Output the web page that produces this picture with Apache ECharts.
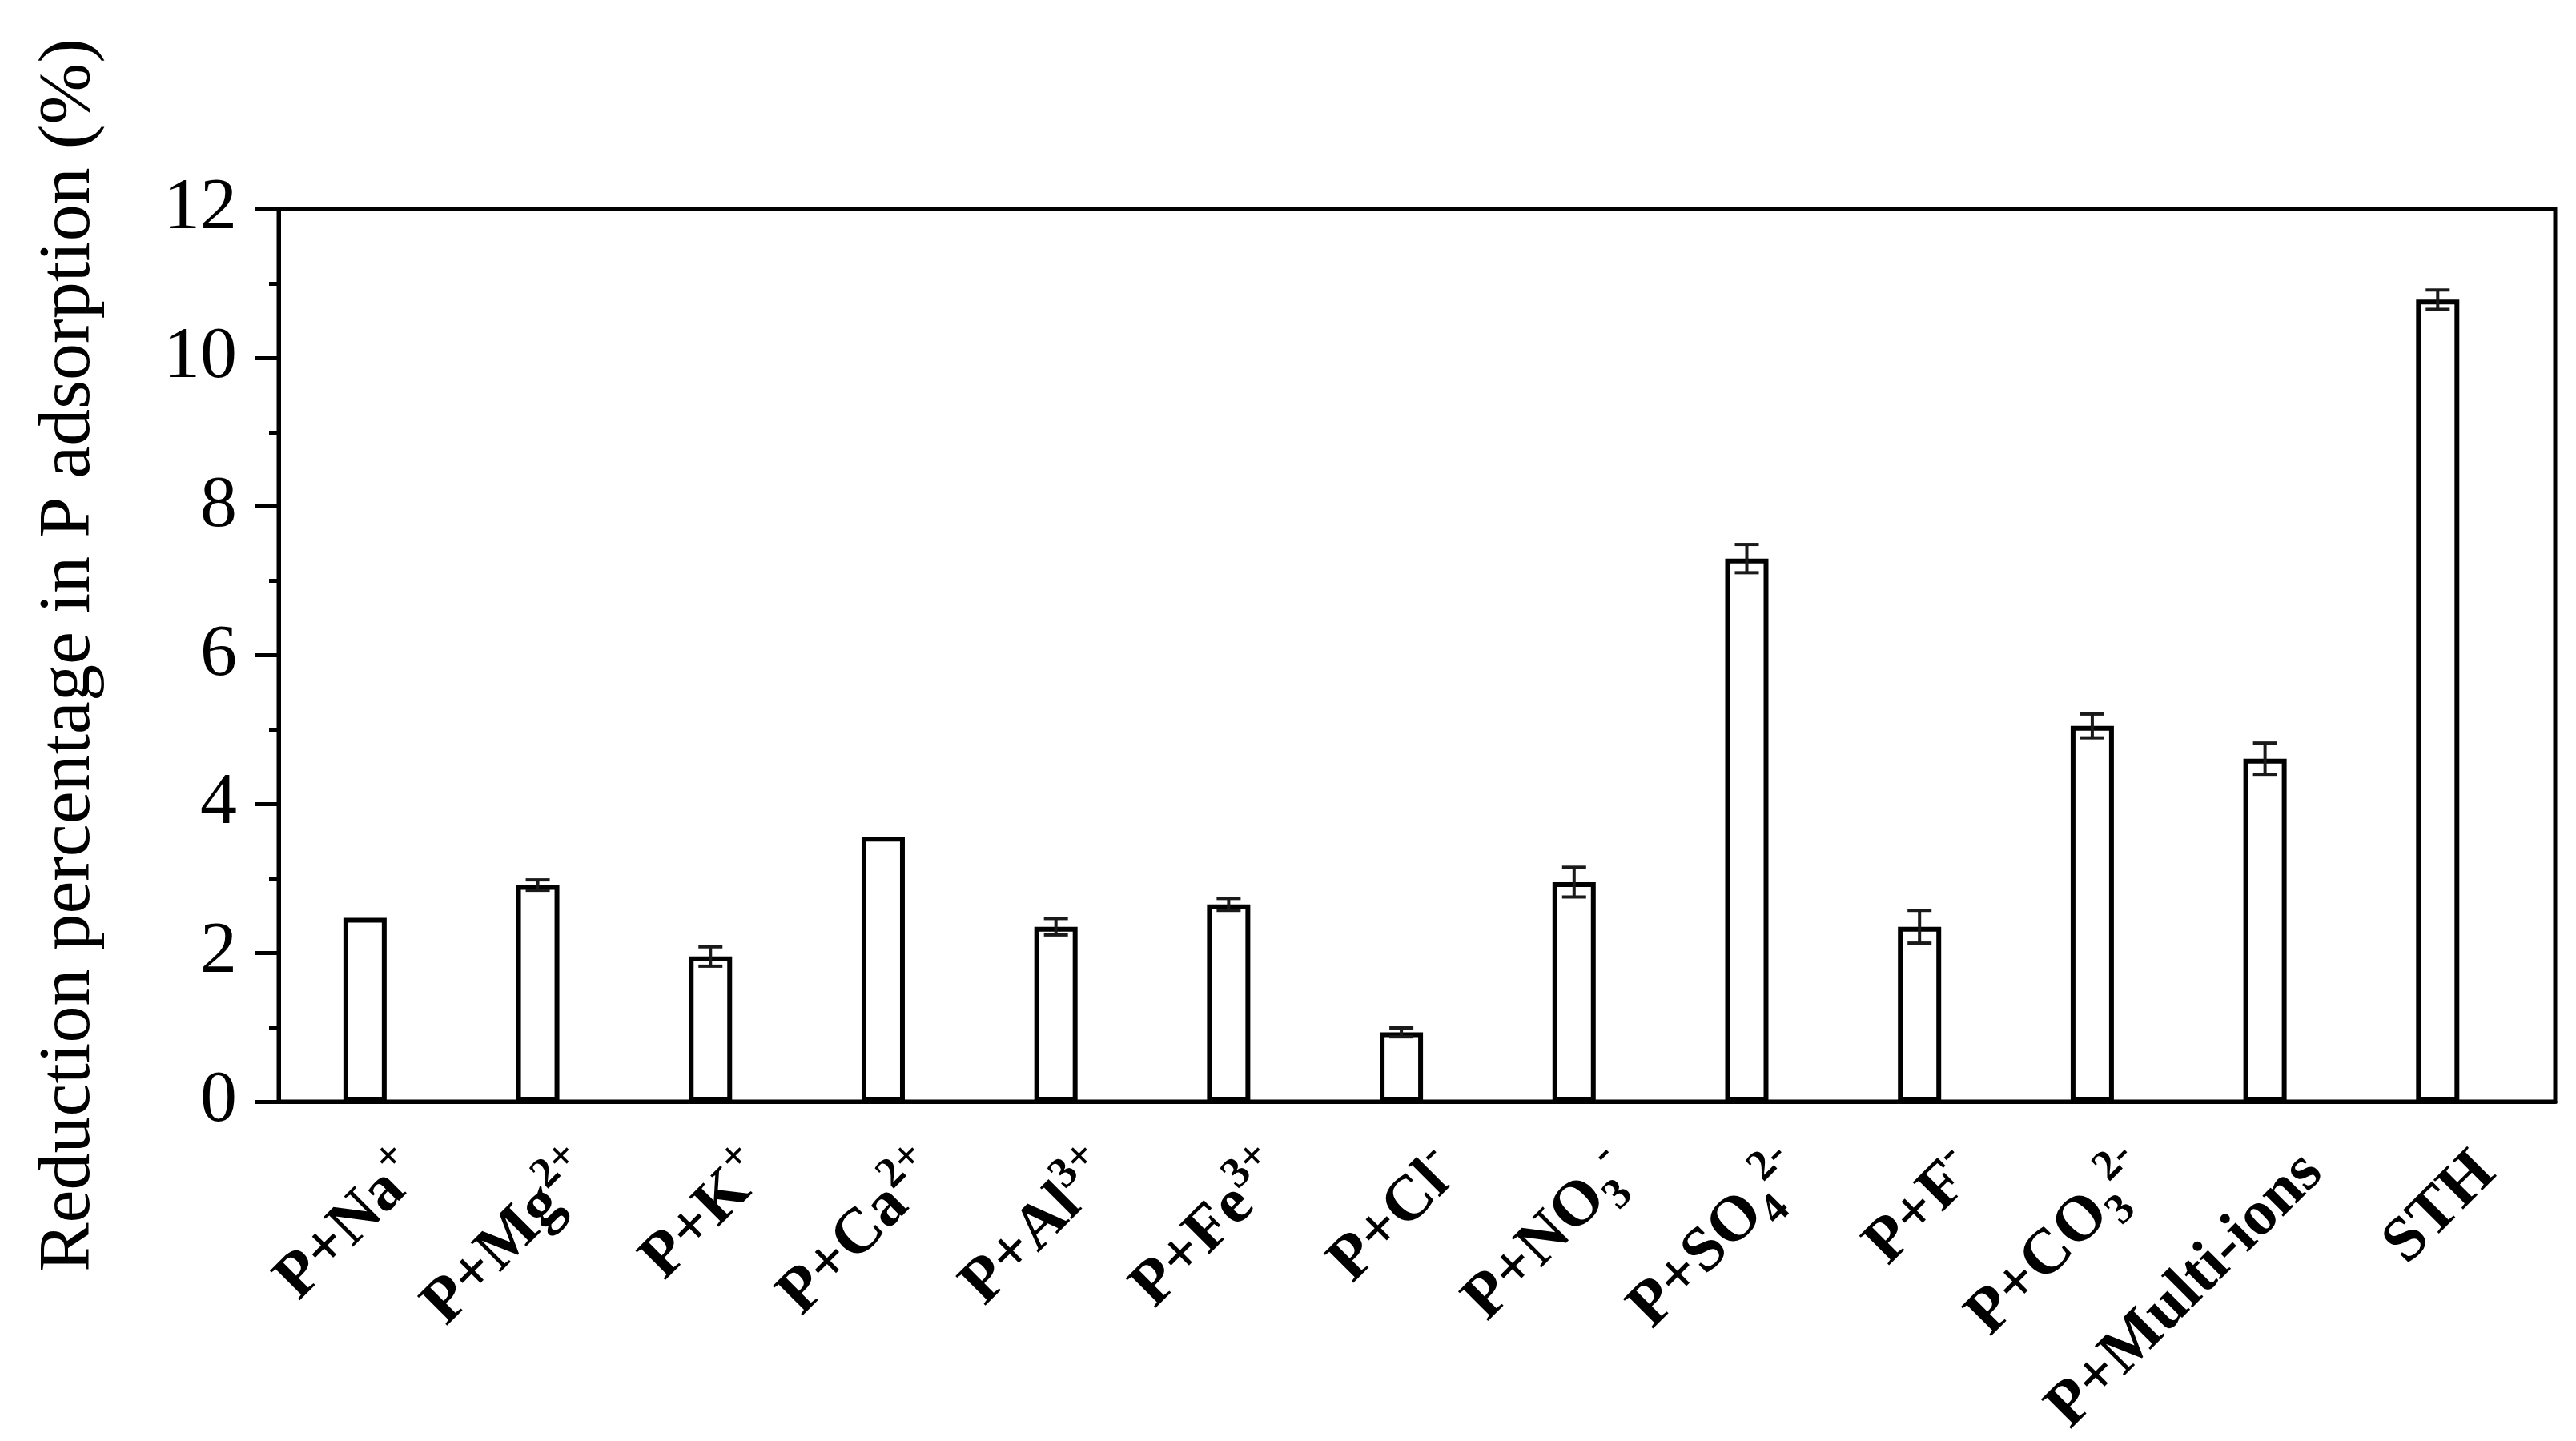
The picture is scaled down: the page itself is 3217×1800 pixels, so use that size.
<!DOCTYPE html>
<html>
<head>
<meta charset="utf-8">
<title>Reduction percentage in P adsorption</title>
<script src="https://cdn.jsdelivr.net/npm/echarts@6/dist/echarts.min.js"></script>
<style>
  html, body { margin: 0; padding: 0; background: #fff; }
  #chart { width: 3217px; height: 1800px; }
</style>
</head>
<body>
<div id="chart"></div>
<script>
  // categories written as rich-text so ion charges / subscripts render
  const categories = [
    '{b|P+Na}{sup|+}',
    '{b|P+Mg}{sup|2+}',
    '{b|P+K}{sup|+}',
    '{b|P+Ca}{sup|2+}',
    '{b|P+Al}{sup|3+}',
    '{b|P+Fe}{sup|3+}',
    '{b|P+Cl}{sup|-}',
    '{b|P+NO}{sub|3}{sup|-}',
    '{b|P+SO}{sub|4}{sup|2-}',
    '{b|P+F}{sup|-}',
    '{b|P+CO}{sub|3}{sup|2-}',
    '{b|P+Multi-ions}',
    '{b|STH}'
  ]
  const values = [2.47, 2.91, 1.95, 3.56, 2.35, 2.65, 0.93, 2.95, 7.30, 2.35, 5.05, 4.61, 10.78]
  const errors = [0, 0.07, 0.13, 0, 0.11, 0.08, 0.06, 0.20, 0.19, 0.22, 0.16, 0.21, 0.13]
  const yTicks = [0, 2, 4, 6, 8, 10, 12]

  const serif = '"Liberation Serif", "Times New Roman", serif'

  // bars sit in the middle of each category slot (index + 0.5)
  const barData = values.map((v, i) => [i + 0.5, v])
  const errData = values.map((v, i) => [i + 0.5, v - errors[i], v + errors[i]])
    .filter((d, i) => errors[i] > 0)

  const chart = echarts.init(document.getElementById('chart'))

  chart.setOption({
    backgroundColor: '#fff',
    animation: false,
    grid: {
      left: 348,
      right: 26,
      top: 261,
      bottom: 424,
      outerBoundsMode: 'none',
      show: true,
      borderColor: '#000',
      borderWidth: 5,
      backgroundColor: 'transparent'
    },
    xAxis: {
      type: 'value',
      min: 0,
      max: 13.18,
      interval: 0.5,
      splitLine: { show: false },
      axisTick: { show: false },
      axisLine: { show: true, onZero: false, lineStyle: { color: '#000', width: 5 } },
      axisLabel: {
        rotate: 45,
        margin: 17,
        padding: [170, 0, 0, 0],
        showMinLabel: false,
        showMaxLabel: false,
        formatter: function (v) {
          const k = v - 0.5
          const i = Math.round(k)
          if (Math.abs(k - i) > 1e-6 || i < 0 || i >= categories.length) return ''
          return categories[i]
        },
        rich: {
          b: { fontFamily: serif, fontWeight: 'bold', fontSize: 80, lineHeight: 104, color: '#000' },
          sup: { fontFamily: serif, fontWeight: 'bold', fontSize: 54, lineHeight: 54, verticalAlign: 'top', color: '#000' },
          sub: { fontFamily: serif, fontWeight: 'bold', fontSize: 54, lineHeight: 54, verticalAlign: 'bottom', color: '#000' }
        }
      }
    },
    yAxis: {
      type: 'value',
      min: yTicks[0],
      max: yTicks[yTicks.length - 1],
      interval: 2,
      name: 'Reduction percentage in P adsorption (%)',
      nameLocation: 'middle',
      nameRotate: 90,
      nameGap: 215,
      nameTextStyle: { fontFamily: serif, fontSize: 92, color: '#000' },
      splitLine: { show: false },
      axisLine: { show: true, lineStyle: { color: '#000', width: 5 } },
      axisTick: { show: true, inside: false, length: 29, lineStyle: { color: '#000', width: 5 } },
      minorTick: { show: true, splitNumber: 2, length: 12, lineStyle: { color: '#000', width: 5 } },
      axisLabel: { margin: 52, fontFamily: serif, fontSize: 92, color: '#000' }
    },
    series: [
      {
        type: 'bar',
        data: barData,
        barWidth: 54,
        itemStyle: { color: '#fff', borderColor: '#000', borderWidth: 6 },
        z: 2
      },
      {
        type: 'custom',
        data: errData,
        z: 3,
        renderItem: function (params, api) {
          const x = api.value(0)
          const lo = api.coord([x, api.value(1)])
          const hi = api.coord([x, api.value(2)])
          const half = 15
          const style = { stroke: '#1a1a1a', lineWidth: 4 }
          return {
            type: 'group',
            children: [
              { type: 'line', shape: { x1: lo[0], y1: lo[1], x2: hi[0], y2: hi[1] }, style: style },
              { type: 'line', shape: { x1: hi[0] - half, y1: hi[1], x2: hi[0] + half, y2: hi[1] }, style: style },
              { type: 'line', shape: { x1: lo[0] - half, y1: lo[1], x2: lo[0] + half, y2: lo[1] }, style: style }
            ]
          }
        }
      }
    ]
  })
</script>
</body>
</html>
